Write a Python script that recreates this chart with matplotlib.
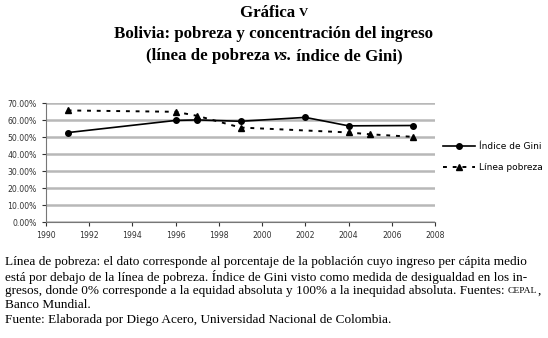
import matplotlib.pyplot as plt
from matplotlib.ticker import FuncFormatter, MultipleLocator

# data
gini_years = [1991, 1996, 1997, 1999, 2002, 2004, 2007]
gini_vals = [52.8, 60.0, 60.3, 59.5, 61.8, 56.8, 57.0]

pobreza_years = [1991, 1996, 1997, 1999, 2004, 2005, 2007]
pobreza_vals = [65.9, 65.1, 62.7, 55.8, 52.9, 51.8, 50.3]

note_lines = [
    "Línea de pobreza: el dato corresponde al porcentaje de la población cuyo ingreso per cápita medio",
    "está por debajo de la línea de pobreza. Índice de Gini visto como medida de desigualdad en los in-",
    None,
    "Banco Mundial.",
    "Fuente: Elaborada por Diego Acero, Universidad Nacional de Colombia.",
]

fig = plt.figure(figsize=(5.48, 3.38), dpi=100)
fig.patch.set_facecolor("white")
r = fig.canvas.get_renderer()

serif = "Liberation Serif"
tsize = 12.2
nsize = 9.5


def pieces(parts, y, x0=None):
    # lay out text pieces side by side; centred when x0 is None
    objs = []
    for s, kw in parts:
        o = fig.text(0, 1 - y / 338, s, ha="left", va="center", family=serif, **kw)
        objs.append(o)
    widths = [o.get_window_extent(r).width for o in objs]
    x = (548 - sum(widths)) / 2 if x0 is None else x0
    for o, w in zip(objs, widths):
        o.set_x(x / 548)
        x += w


pieces([("Gráfica ", dict(weight="bold", fontsize=tsize)),
        ("V", dict(weight="bold", fontsize=tsize * 0.75))], 13)
fig.text(0.5, 1 - 34 / 338, "Bolivia: pobreza y concentración del ingreso",
         ha="center", va="center", family=serif, weight="bold", fontsize=tsize)
pieces([("(línea de pobreza ", dict(weight="bold", fontsize=tsize)),
        ("vs.", dict(weight="bold", style="italic", fontsize=tsize)),
        (" índice de Gini)", dict(weight="bold", fontsize=tsize))], 56)

ys = [262, 277, 291, 305, 320]
for line, y in zip(note_lines, ys):
    if line is None:
        pieces([("gresos, donde 0% corresponde a la equidad absoluta y 100% a la inequidad absoluta. Fuentes: ",
                 dict(fontsize=nsize)),
                ("CEPAL", dict(fontsize=nsize * 0.72)),
                (",", dict(fontsize=nsize))], y, x0=5)
    else:
        fig.text(5 / 548, 1 - y / 338, line, ha="left", va="center",
                 family=serif, fontsize=nsize)

ax = fig.add_axes([46 / 548, 1 - 222 / 338, (435 - 46) / 548, (222 - 103.5) / 338])
ax.set_xlim(1990, 2008)
ax.set_ylim(0, 70)
ax.yaxis.set_major_locator(MultipleLocator(10))
ax.xaxis.set_major_locator(MultipleLocator(2))
ax.yaxis.set_major_formatter(FuncFormatter(lambda v, p: f"{v:.2f}%"))
ax.grid(axis="y", color="#b8b8b8", linewidth=1.8)
ax.set_axisbelow(True)
for s in ["top", "right"]:
    ax.spines[s].set_visible(False)
ax.spines["left"].set_color("#777777")
ax.spines["bottom"].set_color("#777777")
ax.tick_params(labelsize=5.6, colors="#333333", length=3, width=0.8)

ax.plot(gini_years, gini_vals, color="black", linewidth=1.2, marker="o",
        markersize=4, label="Índice de Gini")
ax.plot(pobreza_years, pobreza_vals, color="black", linewidth=1.4,
        linestyle=(0, (2, 3)), marker="^", markersize=5, label="Línea pobreza")

ax.legend(loc="center left", bbox_to_anchor=(1.0, 0.55), frameon=False,
          fontsize=6.5, handlelength=3.5, labelspacing=1.3, handletextpad=0.5)

fig.savefig("out.png", dpi=100)
